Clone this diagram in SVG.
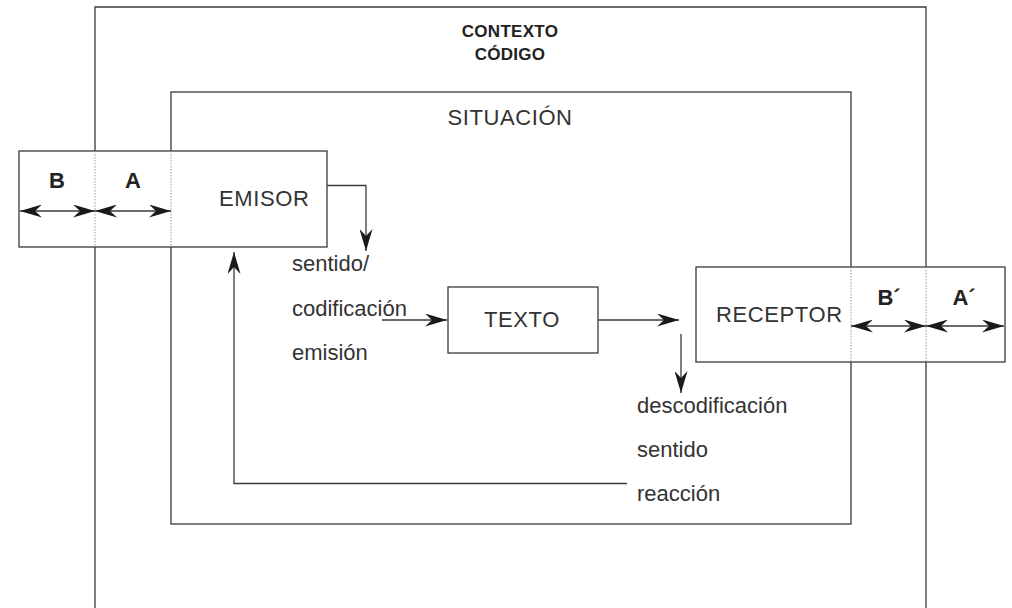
<svg xmlns="http://www.w3.org/2000/svg" width="1012" height="608" viewBox="0 0 1012 608">
<style>
.ln{fill:none;stroke:#3a3a3a;stroke-width:1.3}
.box{fill:#fff;stroke:#3a3a3a;stroke-width:1.3}
.dot{fill:none;stroke:#999;stroke-width:1;stroke-dasharray:1.5 1.5}
.lbl{font-family:"Liberation Sans",Arial,sans-serif;font-size:22px;fill:#333;letter-spacing:0.6px}
.txt{font-family:"Liberation Sans",Arial,sans-serif;font-size:22px;fill:#333}
.bold{font-family:"Liberation Sans",Arial,sans-serif;font-weight:bold;fill:#222}
</style>
<defs>
<marker id="arr" viewBox="0 0 22 13" refX="22" refY="6.5" markerWidth="22" markerHeight="13" markerUnits="userSpaceOnUse" orient="auto-start-reverse">
<path d="M0,0 L22,6.5 L0,13 L7,6.5 Z" fill="#1a1a1a"/>
</marker>
</defs>
<rect width="1012" height="608" fill="#fff"/>
<g id="contexto">
<path class="ln" d="M95,608 V7 H926 V608"/>
<text class="bold" x="510" y="37" font-size="17" text-anchor="middle" letter-spacing="0.3">CONTEXTO</text>
<text class="bold" x="510" y="60" font-size="17" text-anchor="middle" letter-spacing="0.3">CÓDIGO</text>
</g>
<g id="situacion">
<rect class="ln" x="171" y="92" width="680" height="432"/>
<text class="lbl" x="510" y="125" text-anchor="middle">SITUACIÓN</text>
</g>
<g id="emisor">
<rect class="box" x="19" y="151" width="308" height="96"/>
<line class="dot" x1="95" y1="151" x2="95" y2="247"/>
<line class="dot" x1="171" y1="151" x2="171" y2="247"/>
<text class="lbl" x="219" y="206">EMISOR</text>
<text class="bold" x="57" y="188" font-size="22" text-anchor="middle">B</text>
<text class="bold" x="133" y="188" font-size="22" text-anchor="middle">A</text>
</g>
<g id="texto">
<rect class="box" x="448" y="287" width="150" height="66"/>
<text class="lbl" x="522" y="327" text-anchor="middle">TEXTO</text>
</g>
<g id="receptor">
<rect class="box" x="696" y="267" width="309" height="95"/>
<line class="dot" x1="851" y1="267" x2="851" y2="362"/>
<line class="dot" x1="926" y1="267" x2="926" y2="362"/>
<text class="lbl" x="716" y="322">RECEPTOR</text>
<text class="bold" x="889" y="305" font-size="22" text-anchor="middle">B´</text>
<text class="bold" x="964" y="305" font-size="22" text-anchor="middle">A´</text>
</g>
<g id="labels">
<text class="txt" x="292" y="271">sentido/</text>
<text class="txt" x="292" y="316">codificación</text>
<text class="txt" x="292" y="360">emisión</text>
<text class="txt" x="637" y="413">descodificación</text>
<text class="txt" x="637" y="457">sentido</text>
<text class="txt" x="637" y="501">reacción</text>
</g>
<g id="connectors">
<line class="ln" x1="20" y1="211" x2="95" y2="211" marker-start="url(#arr)" marker-end="url(#arr)"/>
<line class="ln" x1="95" y1="211" x2="171" y2="211" marker-start="url(#arr)" marker-end="url(#arr)"/>
<line class="ln" x1="851" y1="326" x2="926" y2="326" marker-start="url(#arr)" marker-end="url(#arr)"/>
<line class="ln" x1="926" y1="326" x2="1004" y2="326" marker-start="url(#arr)" marker-end="url(#arr)"/>
<path class="ln" d="M327,185.5 H366 V251" marker-end="url(#arr)"/>
<line class="ln" x1="382" y1="320" x2="447" y2="320" marker-end="url(#arr)"/>
<line class="ln" x1="598" y1="320" x2="679" y2="320" marker-end="url(#arr)"/>
<line class="ln" x1="681" y1="334" x2="681" y2="393" marker-end="url(#arr)"/>
<path class="ln" d="M627,483.5 H234 V252" marker-end="url(#arr)"/>
</g>
</svg>
